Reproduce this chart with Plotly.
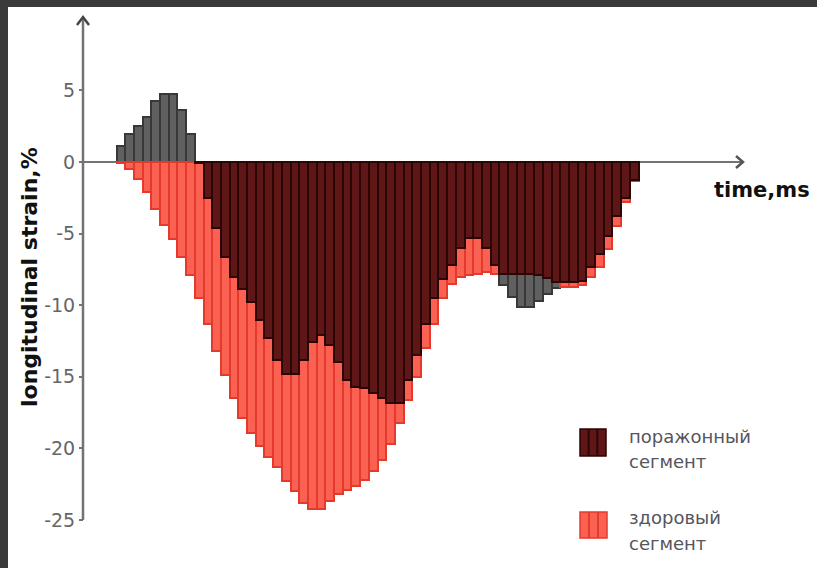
import plotly.graph_objects as go

# ---------------- data ----------------
# time index of each bar (one bar per sample)
time_idx = list(range(60))

# longitudinal strain, % - affected segment ("поражённый сегмент")
affected = [1.1, 1.95, 2.5, 3.15, 4.25, 4.75, 4.75, 3.6, 1.95, -0.1,
            -2.5, -4.6, -6.6, -8.0, -8.9, -9.8, -11.0, -12.3, -13.8, -14.8,
            -14.8, -13.8, -12.6, -12.1, -12.8, -14.0, -15.2, -15.7, -15.8, -16.1,
            -16.5, -16.8, -16.8, -15.2, -13.5, -11.3, -9.5, -8.2, -7.2, -6.0,
            -5.3, -5.3, -6.0, -7.2, -8.6, -9.4, -10.1, -10.1, -9.7, -9.2,
            -8.8, -8.4, -8.4, -8.3, -7.3, -6.4, -5.2, -3.8, -2.5, -1.25]

# longitudinal strain, % - healthy segment ("здоровый сегмент")
healthy = [-0.1, -0.5, -1.2, -2.1, -3.3, -4.4, -5.4, -6.6, -7.9, -9.5,
           -11.3, -13.2, -14.9, -16.5, -17.9, -18.9, -19.8, -20.6, -21.3, -22.3,
           -23.0, -23.8, -24.2, -24.2, -23.7, -23.2, -22.9, -22.6, -22.2, -21.6,
           -20.8, -19.7, -18.2, -16.6, -15.0, -13.0, -11.3, -9.5, -8.5, -8.0,
           -7.9, -7.8, -7.7, -7.8, -7.8, -7.8, -7.8, -7.8, -7.9, -8.1,
           -8.4, -8.7, -8.7, -8.6, -8.0, -7.3, -6.1, -4.5, -2.8, -1.3]

y_ticks = [-25, -20, -15, -10, -5, 0, 5]
y_ticklabels = ["-25", "-20", "-15", "-10", "-5", "0", "5"]

legend_labels = [("поражонный", "сегмент"), ("здоровый", "сегмент")]
x_title = "time,ms"
y_title = "longitudinal strain,%"

# ---------------- styling / geometry ----------------
W, H = 817, 568
BAR_PITCH = 8.7          # px per bar
BAR0_CENTER = 120.85     # px of first bar center
ZERO_PY = 162.0          # px of y = 0
PX_PER_UNIT = 14.32      # px per 1 % strain

def px2x(px):
    return (px - BAR0_CENTER) / BAR_PITCH

def py2y(py):
    return (ZERO_PY - py) / PX_PER_UNIT

RED_FILL, RED_LINE = "#fb6152", "#e33a2b"
DARK_FILL, DARK_LINE = "#5e1616", "#2c0505"
GRAY_FILL, GRAY_LINE = "#606060", "#383838"
AXIS_COL = "#737373"

# overlap of the two segments (same sign) drawn in dark red
overlap = []
for a, h in zip(affected, healthy):
    if a < 0 and h < 0:
        overlap.append(max(a, h))
    elif a > 0 and h > 0:
        overlap.append(min(a, h))
    else:
        overlap.append(None)

fig = go.Figure()
# affected segment beyond the healthy one shows in gray
fig.add_trace(go.Bar(x=time_idx, y=affected, width=1.0,
                     marker=dict(color=GRAY_FILL, line=dict(color=GRAY_LINE, width=2)),
                     showlegend=False, hoverinfo="skip"))
fig.add_trace(go.Bar(x=time_idx, y=healthy, width=1.0,
                     marker=dict(color=RED_FILL, line=dict(color=RED_LINE, width=2)),
                     showlegend=False, hoverinfo="skip"))
fig.add_trace(go.Bar(x=time_idx, y=overlap, width=1.0,
                     marker=dict(color=DARK_FILL, line=dict(color=DARK_LINE, width=2)),
                     showlegend=False, hoverinfo="skip"))

shapes = []
# frame strips (top and left)
shapes.append(dict(type="rect", xref="paper", yref="paper", x0=0, x1=1,
                   y0=1 - 7 / H, y1=1, fillcolor="#3a3a3a", line=dict(width=0)))
shapes.append(dict(type="rect", xref="paper", yref="paper", x0=0, x1=8 / W,
                   y0=0, y1=1, fillcolor="#3a3a3a", line=dict(width=0)))
# y axis line with arrow
shapes.append(dict(type="line", xref="x", yref="y", x0=px2x(83), x1=px2x(83),
                   y0=y_ticks[0], y1=py2y(18), line=dict(color=AXIS_COL, width=2.5)))
shapes.append(dict(type="path", xref="x", yref="y",
                   path=f"M {px2x(77)},{py2y(25)} L {px2x(83)},{py2y(17)} L {px2x(89)},{py2y(25)}",
                   line=dict(color="#444", width=2.5)))
# x axis line with arrow
shapes.append(dict(type="line", xref="x", yref="y", x0=px2x(83), x1=px2x(742),
                   y0=0, y1=0, line=dict(color=AXIS_COL, width=2), layer="below"))
shapes.append(dict(type="path", xref="x", yref="y",
                   path=f"M {px2x(736)},{py2y(156)} L {px2x(743)},{py2y(162)} L {px2x(736)},{py2y(168)}",
                   line=dict(color="#555", width=2.5)))

# legend swatches
def swatch(x0, y0, x1, y1, fill, line):
    out = [dict(type="rect", xref="x", yref="y", x0=px2x(x0), x1=px2x(x1),
                y0=py2y(y1), y1=py2y(y0), fillcolor=fill, line=dict(color=line, width=1.5))]
    step = (x1 - x0) / 3
    for i in (1, 2):
        xp = x0 + i * step
        out.append(dict(type="line", xref="x", yref="y", x0=px2x(xp), x1=px2x(xp),
                        y0=py2y(y1), y1=py2y(y0), line=dict(color=line, width=2)))
    return out

shapes += swatch(580, 429, 606, 456, DARK_FILL, DARK_LINE)
shapes += swatch(580, 512, 607, 538, RED_FILL, RED_LINE)

annotations = []
leg_font = dict(family="DejaVu Sans", size=18, color="#555560")
for (l1, l2), (ya, yb) in zip(legend_labels, [(436, 461), (517, 543)]):
    annotations.append(dict(x=px2x(627), y=py2y(ya), xref="x", yref="y", text=l1,
                            showarrow=False, xanchor="left", yanchor="middle", font=leg_font))
    annotations.append(dict(x=px2x(627), y=py2y(yb), xref="x", yref="y", text=l2,
                            showarrow=False, xanchor="left", yanchor="middle", font=leg_font))

annotations.append(dict(x=px2x(712), y=py2y(190), xref="x", yref="y", text=x_title,
                        showarrow=False, xanchor="left", yanchor="middle",
                        font=dict(family="DejaVu Sans", size=21, color="#111")))
annotations.append(dict(x=px2x(29), y=py2y(277), xref="x", yref="y", text=y_title,
                        showarrow=False, xanchor="center", yanchor="middle", textangle=-90,
                        font=dict(family="DejaVu Sans", size=22, color="#111")))

fig.update_layout(
    width=W, height=H,
    margin=dict(l=0, r=0, t=0, b=0),
    paper_bgcolor="white", plot_bgcolor="white",
    barmode="overlay", bargap=0,
    showlegend=False,
    xaxis=dict(range=[px2x(0), px2x(W)], visible=False, domain=[0, 1], fixedrange=True),
    yaxis=dict(range=[py2y(H), py2y(0)], domain=[0, 1], anchor="free", position=83 / W,
               showgrid=False, zeroline=False, showline=False,
               tickmode="array", tickvals=y_ticks, ticktext=y_ticklabels,
               ticks="outside", ticklen=4, tickwidth=2, tickcolor=AXIS_COL,
               tickfont=dict(family="DejaVu Sans", size=19, color="#666")),
    shapes=shapes,
    annotations=annotations,
)

# bold titles
for ann in fig.layout.annotations:
    if ann.text in (x_title, y_title):
        ann.text = f"<b>{ann.text}</b>"

fig.write_html("out.html")
